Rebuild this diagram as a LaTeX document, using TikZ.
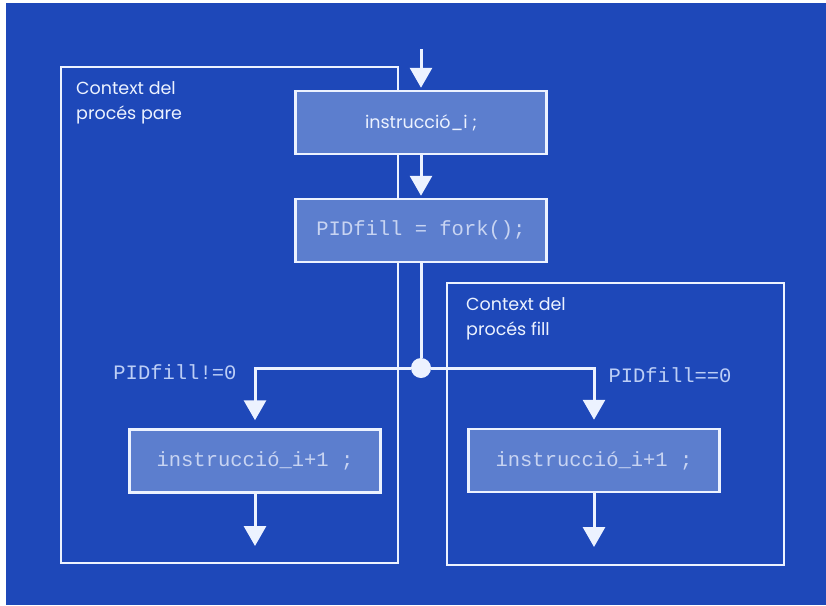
\documentclass[tikz,border=0pt]{standalone}
\usepackage{fontspec}
\setmainfont{Poppins}
\setmonofont{Liberation Mono}
\usepackage{tikz}
\usetikzlibrary{arrows.meta, positioning}

\definecolor{bgblue}{RGB}{30,72,185}
\definecolor{boxblue}{RGB}{92,126,206}
\definecolor{linewhite}{RGB}{236,242,255}
\definecolor{codetext}{RGB}{200,212,242}
\definecolor{labelblue}{RGB}{188,206,246}

\begin{document}
\begin{tikzpicture}[
  x=1pt, y=-1pt,
  font=\fontsize{17.5}{25}\selectfont,
  ctxbox/.style={draw=linewhite, line width=2.5pt, inner sep=0pt},
  instbox/.style={draw=linewhite, line width=2.5pt, fill=boxblue, text=linewhite,
                  minimum width=251pt, minimum height=63pt, inner sep=0pt},
  codefont/.style={font=\ttfamily\fontsize{20.5}{24}\selectfont, text=codetext},
  ctxlabel/.style={anchor=north west, align=left, text=linewhite, inner sep=0pt},
  arrow/.style={-{Triangle[length=20pt, width=22pt]}, line width=3pt, draw=linewhite},
  wire/.style={line width=3pt, draw=linewhite},
]

%% ── Background ───────────────────────────────────────────────────────────
\useasboundingbox (0,0) rectangle (826,605);
\fill[white]  (0,0) rectangle (826,605);
\fill[bgblue] (6,3) rectangle (826,605);

%% ── Process contexts ─────────────────────────────────────────────────────
\node[ctxbox, minimum width=337pt, minimum height=496pt] (ctxpare) at (229.5,315) {};
\node[ctxbox, minimum width=337pt, minimum height=282pt] (ctxfill) at (615.5,424) {};

\node[ctxlabel] (parelabel) at (76,81)  {Context del\\procés pare};
\node[ctxlabel] (filllabel) at (466,297) {Context del\\procés fill};

%% ── Instructions ─────────────────────────────────────────────────────────
\node[instbox] (instr) at (421,122.5) {instrucció\_i ;};
\node[instbox, codefont] (fork) at (421,230.5) {PIDfill = fork();};

\node[instbox, codefont] (instrpare) at (255,461)   {instrucció\_i+1 ;};
\node[instbox, codefont] (instrfill) at (594,460.5) {instrucció\_i+1 ;};

%% ── Fork point and loose ends ────────────────────────────────────────────
\coordinate (entry) at (421,49);
\node[circle, fill=linewhite, minimum size=20pt, inner sep=0pt] (split) at (421,368) {};
\coordinate (endpare) at (255,546);
\coordinate (endfill) at (594,547);

%% ── Branch conditions ────────────────────────────────────────────────────
\node[codefont, text=labelblue, anchor=east] (neq) at (240,372) {PIDfill!=0};
\node[codefont, text=labelblue, anchor=west] (eq)  at (605,375) {PIDfill==0};

%% ── Arrows ───────────────────────────────────────────────────────────────
\draw[arrow, shorten >=2pt] (entry) -- (instr);
\draw[arrow, shorten >=2pt] (instr) -- (fork);
\draw[wire]                 (fork)  -- (split);
\draw[arrow, shorten >=8pt] (split) -| (instrpare);
\draw[arrow, shorten >=8pt] (split) -| (instrfill);
\draw[arrow] (instrpare) -- (endpare);
\draw[arrow] (instrfill) -- (endfill);

\end{tikzpicture}
\end{document}
